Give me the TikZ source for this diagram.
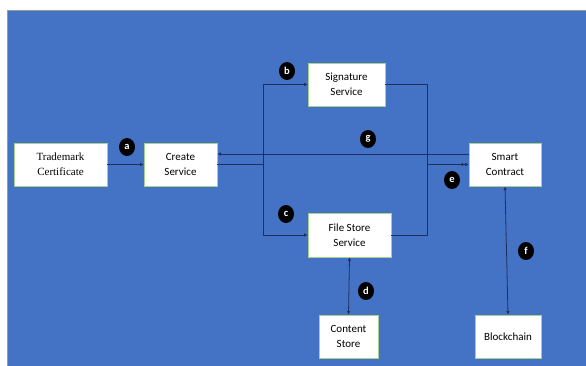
\documentclass[tikz,border=0pt]{standalone}
\usepackage{fontspec}
\setmainfont{Carlito}
\newfontfamily\tmserif{Liberation Serif}
\usetikzlibrary{arrows.meta,shapes.geometric}
\definecolor{bgblue}{HTML}{4472C4}
\definecolor{linec}{HTML}{1F3060}
\definecolor{boxedge}{HTML}{A9D18E}
\tikzset{
  boxnode/.style={draw=boxedge, line width=0.8pt, fill=white, align=center, inner sep=0pt, font=\fontsize{11}{15}\selectfont},
  conn/.style={draw=linec, line width=0.8pt},
  tip/.style={-{Latex[length=3.5pt,width=3.5pt]}},
  tips/.style={{Latex[length=3.5pt,width=3.5pt]}-{Latex[length=3.5pt,width=3.5pt]}},
  badge/.style={ellipse, fill=black, text=white, minimum width=16pt, minimum height=18pt, inner sep=0pt, font=\fontsize{10.5}{11}\selectfont\bfseries}
}
\begin{document}
\begin{tikzpicture}[x=1pt,y=-1pt]
\useasboundingbox (0,0) rectangle (586,365);
\fill[white] (0,0) rectangle (586,365);
\fill[bgblue] (7,10) rectangle (587,366);
\draw[gray!80, line width=0.8pt] (7,366) -- (7,10) -- (587,10);
% boxes
\node[boxnode, minimum width=93pt, minimum height=43pt, font=\tmserif\fontsize{11}{15}\selectfont] (tc) at (60.5,164.5) {Trademark\\Certificate};
\node[boxnode, minimum width=73pt, minimum height=43pt] (cs) at (180.5,164.5) {Create\\Service};
\node[boxnode, minimum width=77pt, minimum height=43pt] (ss) at (346.5,84.5) {Signature\\Service};
\node[boxnode, minimum width=72pt, minimum height=43pt] (sc) at (505,164.5) {Smart\\Contract};
\node[boxnode, minimum width=83pt, minimum height=44pt] (fs) at (349.5,235) {File Store\\Service};
\node[boxnode, minimum width=59pt, minimum height=43pt] (ct) at (348.5,336.5) {Content\\Store};
\node[boxnode, minimum width=66pt, minimum height=43pt] (bc) at (508,336.5) {Blockchain};
% junction coordinates
\coordinate (bt) at (263,84.5);
\coordinate (bb) at (263,235);
\coordinate (ej) at (427,164.5);
% connectors
\draw[conn, tip] (tc.east) -- (cs.west);
\draw[conn, tip] (cs.east) -| (bt) -- (ss.west);
\draw[conn, tip] (cs.east) -| (bb) -- (fs.west);
\draw[conn, tip] ([yshift=10.5pt]sc.west) -- ([yshift=10.5pt]cs.east);
\draw[conn] (ss.east) -| (ej);
\draw[conn] (fs.east) -| (ej);
\draw[conn, -{Latex[length=3.5pt,width=3.5pt] Latex[length=3.5pt,width=3.5pt]}] (ej) -- (sc.west);
\draw[conn, tips] (fs.south) -- (ct.north);
\draw[conn, tips] (sc.south) -- (bc.north);
% badges
\node[badge] (la) at (127,147) {a};
\node[badge] (lb) at (287,71) {b};
\node[badge] (lc) at (286,214) {c};
\node[badge] (ld) at (366,291) {d};
\node[badge] (le) at (452,180) {e};
\node[badge] (lf) at (526,251) {f};
\node[badge] (lg) at (368,139) {g};
\end{tikzpicture}
\end{document}
